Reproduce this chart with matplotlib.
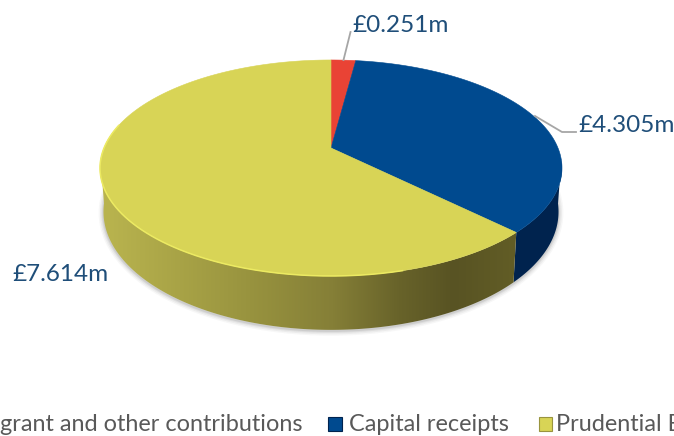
import numpy as np
import matplotlib
matplotlib.use("Agg")
import matplotlib.pyplot as plt
from matplotlib.colors import LinearSegmentedColormap
from matplotlib.patches import Polygon, Rectangle

categories = ["grant and other contributions", "Capital receipts", "Prudential B"]
values = [0.251, 4.305, 7.614]
value_labels = ["£0.251m", "£4.305m", "£7.614m"]
top_colors = ["#E94335", "#004A8F", "#D8D456"]

plt.rcParams["font.family"] = ["Lato", "DejaVu Sans"]
fig = plt.figure(figsize=(6.74, 4.36), dpi=100)
ax = fig.add_axes([0, 0, 1, 1])
ax.set_xlim(0, 674)
ax.set_ylim(436, 0)
ax.axis("off")

CX, CY, A, B, K = 331, 148, 227, 104.3, 0.185


def top(deg):
    t = np.radians(deg)
    u, v = np.sin(t), np.cos(t)
    w = 1 + K * v
    return CX + A * u / w, CY - B * v / w


def bottom(deg):
    x, y = top(deg)
    return CX + (x - CX) * 0.985, CY + 42 + (y - CY) * 1.093


def arc(f, a0, a1, n=200):
    x, y = f(np.linspace(a0, a1, n))
    return np.column_stack([x, y])


edges = np.concatenate([[0], np.cumsum(values)]) / np.sum(values) * 360
SIL_R, SIL_L = 100.7, 259.3

# soft shadow under the pie
low = arc(bottom, SIL_R - 10, SIL_L + 10, 300)
for lw, alpha in [(7, 0.04), (5, 0.06), (3, 0.08), (1.5, 0.1)]:
    ax.plot(low[:, 0], low[:, 1] + 1, color="#404040", lw=lw, alpha=alpha, zorder=1)

# dark blue side
blue_side = np.vstack([arc(top, SIL_R - 4, edges[2]), arc(bottom, edges[2], SIL_R - 4)])
ax.add_patch(Polygon(blue_side, closed=True, fc="#00234E", ec="none", zorder=2))

# yellow side with horizontal gradient, clipped to its outline
yellow_side = np.vstack([arc(top, edges[2], SIL_L + 4), arc(bottom, SIL_L + 4, edges[2])])
clip = Polygon(yellow_side, closed=True, fc="none", ec="none", zorder=2)
ax.add_patch(clip)
cmap = LinearSegmentedColormap.from_list(
    "side",
    [(0.0, "#BAB54F"), (0.35, "#99943F"), (0.56, "#857F37"), (0.72, "#68632A"),
     (0.85, "#585323"), (1.0, "#625D26")],
)
img = ax.imshow(np.linspace(0, 1, 256)[None, :], cmap=cmap, extent=(100, 516, 340, 160),
                aspect="auto", zorder=2.1)
img.set_clip_path(clip)
ax.set_xlim(0, 674)
ax.set_ylim(436, 0)

# top faces
for i, color in enumerate(top_colors):
    pts = np.vstack([[CX, CY], arc(top, edges[i], edges[i + 1])])
    ax.add_patch(Polygon(pts, closed=True, fc=color, ec=color, lw=0.4, zorder=3))

# light rim along the front of the yellow slice
rim = arc(top, 165, 283)
ax.plot(rim[:, 0], rim[:, 1], color="#ECEA62", lw=1.1, zorder=4)

# leader lines
ax.plot([343.5, 350.5], [60, 32], color="#A6A6A6", lw=1.3, zorder=5)
ax.plot([535, 562, 576], [116, 132, 132], color="#A6A6A6", lw=1.3, zorder=5)

label_color = "#1F4E79"
ax.text(352, 26, value_labels[0], fontsize=17.5, color=label_color, ha="left", va="center")
ax.text(578, 125, value_labels[1], fontsize=17.5, color=label_color, ha="left", va="center")
ax.text(12, 274, value_labels[2], fontsize=17.5, color=label_color, ha="left", va="center")

# legend, running off both edges of the picture as in the reference
legend_color = "#595959"
ax.text(303, 424.5, categories[0], fontsize=16.9, color=legend_color, ha="right", va="center", clip_on=True)
ax.add_patch(Rectangle((328, 417), 14, 14, fc=top_colors[1], ec="#00234E", lw=0.8))
ax.text(349, 424.5, categories[1], fontsize=16.9, color=legend_color, ha="left", va="center", clip_on=True)
ax.add_patch(Rectangle((539, 417), 13, 14, fc=top_colors[2], ec="#99943F", lw=0.8))
ax.text(556, 424.5, categories[2], fontsize=16.9, color=legend_color, ha="left", va="center", clip_on=True)

fig.savefig("out.png", dpi=100)
